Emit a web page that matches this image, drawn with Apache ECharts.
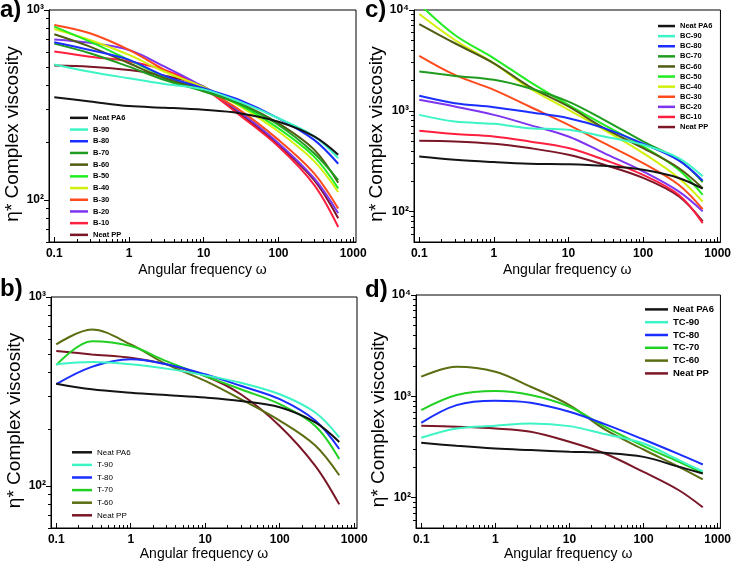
<!DOCTYPE html>
<html>
<head>
<meta charset="utf-8">
<script src="https://cdn.jsdelivr.net/npm/echarts@6/dist/echarts.min.js"></script>
<style>html,body{margin:0;padding:0;background:#fff}#main{width:734px;height:569px}</style>
</head>
<body>
<div id="main"></div>
<script>
// angular frequency (x) shared by every curve
var freq = [0.1, 0.3, 1, 3, 10, 30, 100, 300, 630];

// a) B blends
var aNames = ['Neat PA6', 'B-90', 'B-80', 'B-70', 'B-60', 'B-50', 'B-40', 'B-30', 'B-20', 'B-10', 'Neat PP'];
var aPA6 = [347, 330, 312, 306, 298, 286, 258, 216, 173];
var aB90 = [517, 473, 437, 408, 382, 329, 269, 216, 166];
var aB80 = [677, 616, 546, 450, 387, 336, 269, 207, 155];
var aB70 = [665, 592, 503, 428, 372, 320, 248, 176, 127];
var aB60 = [745, 641, 524, 437, 379, 323, 253, 184, 123];
var aB50 = [818, 681, 546, 446, 379, 317, 238, 169, 115];
var aB40 = [795, 695, 580, 473, 392, 313, 229, 160, 110];
var aB30 = [834, 754, 616, 483, 382, 298, 207, 138, 90];
var aB20 = [700, 672, 616, 503, 392, 292, 199, 130, 85];
var aB10 = [604, 568, 536, 483, 387, 280, 191, 120, 72];
var aPP  = [510, 503, 483, 450, 395, 286, 195, 127, 80];

// b) T blends
var bNames = ['Neat PA6', 'T-90', 'T-80', 'T-70', 'T-60', 'Neat PP'];
var bPA6 = [348, 325, 312, 303, 294, 282, 261, 217, 171];
var bT90 = [441, 453, 441, 418, 385, 352, 306, 245, 181];
var bT80 = [346, 427, 468, 441, 390, 339, 288, 222, 157];
var bT70 = [436, 584, 550, 458, 382, 325, 271, 208, 139];
var bT60 = [561, 673, 561, 441, 360, 288, 222, 164, 114];
var bPP  = [518, 497, 477, 441, 382, 306, 208, 128, 80];

// c) BC blends
var cNames = ['Neat PA6', 'BC-90', 'BC-80', 'BC-70', 'BC-60', 'BC-50', 'BC-40', 'BC-30', 'BC-20', 'BC-10', 'Neat PP'];
var cPA6  = [353, 327, 310, 299, 296, 285, 260, 216, 169];
var cBC90 = [912, 783, 743, 673, 648, 557, 460, 340, 224];
var cBC80 = [1409, 1191, 1087, 970, 846, 673, 471, 322, 203];
var cBC70 = [2450, 2220, 2030, 1675, 1236, 815, 497, 327, 197];
var cBC60 = [7260, 4680, 2960, 1740, 1104, 673, 427, 271, 171];
var cBC50 = [11500, 5650, 3320, 1950, 1146, 726, 444, 261, 147];
var cBC40 = [9120, 5040, 2960, 1675, 1023, 648, 381, 216, 126];
var cBC30 = [3510, 2270, 1615, 1104, 726, 478, 303, 185, 106];
var cBC20 = [1285, 1104, 912, 726, 557, 381, 251, 159, 101];
var cBC10 = [634, 588, 557, 497, 427, 327, 232, 147, 77];
var cPP   = [505, 497, 471, 427, 367, 292, 216, 142, 80];

// d) TC blends
var dNames = ['Neat PA6', 'TC-90', 'TC-80', 'TC-70', 'TC-60', 'Neat PP'];
var dPA6  = [347, 324, 305, 294, 283, 276, 252, 201, 173];
var dTC90 = [389, 481, 511, 538, 507, 423, 342, 234, 181];
var dTC80 = [547, 818, 903, 863, 703, 530, 374, 268, 212];
var dTC70 = [729, 1028, 1125, 1028, 787, 500, 322, 225, 174];
var dTC60 = [1560, 1959, 1746, 1241, 818, 470, 298, 201, 151];
var dPP   = [511, 500, 481, 446, 355, 272, 179, 118, 80];

// tick values
var xMajor = [0.1, 1, 10, 100, 1000];
var xMinor = [0.2, 0.3, 0.4, 0.5, 0.6, 0.7, 0.8, 0.9, 2, 3, 4, 5, 6, 7, 8, 9,
              20, 30, 40, 50, 60, 70, 80, 90, 200, 300, 400, 500, 600, 700, 800, 900];
var yMajor3 = [100, 1000];
var yMinor3 = [60, 70, 80, 90, 200, 300, 400, 500, 600, 700, 800, 900];
var yMajor4 = [100, 1000, 10000];
var yMinor4 = [60, 70, 80, 90, 200, 300, 400, 500, 600, 700, 800, 900,
               2000, 3000, 4000, 5000, 6000, 7000, 8000, 9000];

var colAC = ['#141414', '#3df5c4', '#1a2eff', '#1f9c1f', '#4f5c12', '#22ec22', '#d2f00a', '#ff4a1c', '#7d35f0', '#ff1f3f', '#7a1626'];
var colBD = ['#141414', '#3df5c4', '#1a2eff', '#22d022', '#5b6e12', '#7a1626'];

var FONT = '"Liberation Sans", Arial, sans-serif';
var myChart = echarts.init(document.getElementById('main'));

var grids = [
    {left: 49, top: 10, width: 307, height: 232},   // a
    {left: 414, top: 10, width: 307, height: 232},  // c
    {left: 51, top: 297, width: 306, height: 231},  // b
    {left: 416, top: 295, width: 306, height: 233}  // d
];
var yRange = [[60, 1000], [50, 10000], [60, 1000], [50, 10000]];
var xNameGap = [21, 21, 15, 19];
var yNameGap = [25, 25, 22, 24];

var supMap = {100: '10\u00b2', 1000: '10\u00b3', 10000: '10\u2074'};

var xAxes = [], yAxes = [];
grids.forEach(function (g, i) {
    var four = yRange[i][1] > 1000;
    var yMaj = four ? yMajor4 : yMajor3;
    var yMin = four ? yMinor4 : yMinor3;
    // main axis: labels + every tick (short, pointing into the plot)
    xAxes.push({
        type: 'log', gridIndex: i, min: 0.085, max: 1090, position: 'bottom',
        axisLine: {lineStyle: {color: '#000', width: 1}},
        axisTick: {customValues: xMajor.concat(xMinor), inside: true, length: 3, lineStyle: {color: '#000'}},
        axisLabel: {customValues: xMajor, margin: 6, color: '#000', fontSize: 12, fontWeight: 'bold', fontFamily: FONT,
            formatter: function (v) { return String(+(+v).toPrecision(3)); }},
        splitLine: {show: false},
        name: 'Angular frequency \u03c9', nameLocation: 'middle', nameGap: xNameGap[i],
        nameTextStyle: {color: '#000', fontSize: 14, fontFamily: FONT}
    });
    // overlay axis: longer major ticks
    xAxes.push({
        type: 'log', gridIndex: i, min: 0.085, max: 1090, position: 'bottom',
        axisLine: {show: false},
        axisTick: {customValues: xMajor, inside: true, length: 5, lineStyle: {color: '#000'}},
        axisLabel: {show: false},
        splitLine: {show: false}
    });
    yAxes.push({
        type: 'log', gridIndex: i, min: yRange[i][0], max: yRange[i][1], position: 'left',
        axisLine: {lineStyle: {color: '#000', width: 1}},
        axisTick: {customValues: yMaj.concat(yMin), length: 3, lineStyle: {color: '#000'}},
        axisLabel: {customValues: yMaj, margin: 5, color: '#000', fontSize: 12, fontWeight: 'bold', fontFamily: FONT,
            formatter: function (v) { return supMap[Math.round(v)] || ''; }},
        splitLine: {show: false},
        name: '\u03b7* Complex viscosity', nameLocation: 'middle', nameGap: yNameGap[i],
        nameTextStyle: {color: '#000', fontSize: 19, fontFamily: FONT, padding: [0, 16, 0, 0]}
    });
    yAxes.push({
        type: 'log', gridIndex: i, min: yRange[i][0], max: yRange[i][1], position: 'left',
        axisLine: {show: false},
        axisTick: {customValues: yMaj, length: 5, lineStyle: {color: '#000'}},
        axisLabel: {show: false},
        splitLine: {show: false}
    });
});

var series = [];
function addPanel(idx, names, arrays, colors) {
    names.forEach(function (n, k) {
        series.push({
            name: n, type: 'line', xAxisIndex: idx * 2, yAxisIndex: idx * 2,
            data: freq.map(function (f, j) { return [f, arrays[k][j]]; }),
            showSymbol: false, symbol: 'none', smooth: 0.35, clip: true,
            lineStyle: {width: 2, color: colors[k]}, itemStyle: {color: colors[k]},
            z: 10 - k * 0.1
        });
    });
}
addPanel(0, aNames, [aPA6, aB90, aB80, aB70, aB60, aB50, aB40, aB30, aB20, aB10, aPP], colAC);
addPanel(1, cNames, [cPA6, cBC90, cBC80, cBC70, cBC60, cBC50, cBC40, cBC30, cBC20, cBC10, cPP], colAC);
addPanel(2, bNames, [bPA6, bT90, bT80, bT70, bT60, bPP], colBD);
addPanel(3, dNames, [dPA6, dTC90, dTC80, dTC70, dTC60, dPP], colBD);

function legend(names, left, top, w, lh, size, weight) {
    return {
        data: names, orient: 'vertical', left: left, top: top, icon: 'rect',
        itemWidth: w, itemHeight: 2.5, itemGap: 0, selectedMode: false,
        textStyle: {color: '#000', fontSize: size, fontWeight: weight, fontFamily: FONT, lineHeight: lh}
    };
}

function panelLabel(t, x, y) {
    return {type: 'text', x: x, y: y, style: {text: t, fill: '#000', font: 'bold 24px ' + FONT, verticalAlign: 'top'}};
}

option = {
    backgroundColor: '#fff',
    animation: false,
    grid: grids.map(function (g) {
        return {left: g.left, top: g.top, width: g.width, height: g.height, show: true,
                borderColor: '#000', borderWidth: 1, backgroundColor: 'transparent'};
    }),
    xAxis: xAxes,
    yAxis: yAxes,
    legend: [
        legend(aNames, 65, 107, 18, 11.7, 7.5, 'bold'),
        legend(cNames, 653, 16, 17, 10.1, 7.5, 'bold'),
        legend(bNames, 67, 441, 20, 12.6, 8, 'normal'),
        legend(dNames, 640, 298, 23, 12.8, 9.5, 'bold')
    ],
    graphic: [
        panelLabel('a)', 0, -2),
        panelLabel('c)', 365, -2),
        panelLabel('b)', 0, 277),
        panelLabel('d)', 365, 278)
    ],
    series: series
};

myChart.setOption(option);
window.addEventListener('resize', function () {
    myChart.resize();
});
</script>
</body>
</html>
